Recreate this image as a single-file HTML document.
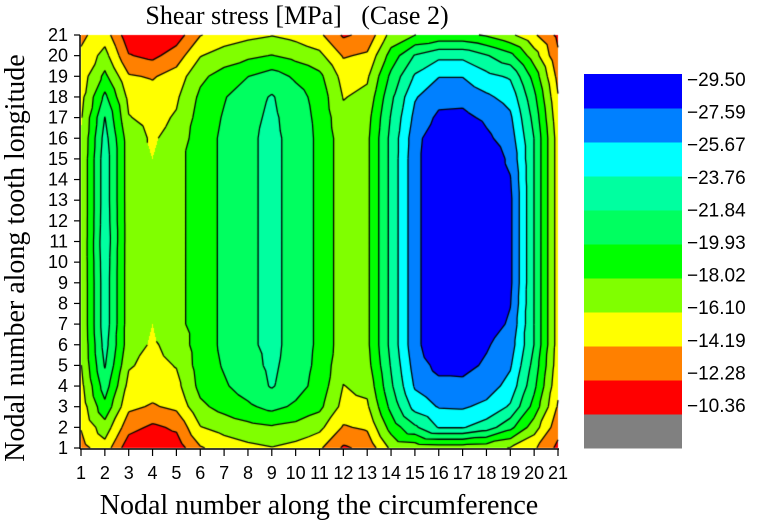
<!DOCTYPE html>
<html><head><meta charset="utf-8"><style>
html,body{margin:0;padding:0;background:#fff;}
#wrap{position:relative;width:757px;height:527px;overflow:hidden;}
canvas{position:absolute;left:0;top:0;}
</style></head><body>
<div id="wrap">
<canvas id="c" width="757" height="527"></canvas>
<svg id="s" width="757" height="527" style="position:absolute;left:0;top:0"></svg>
</div>
<script>
// node numbers
const xNodes=[1,2,3,4,5,6,7,8,9,10,11,12,13,14,15,16,17,18,19,20,21];
const yNodes=[1,2,3,4,5,6,7,8,9,10,11,12,13,14,15,16,17,18,19,20,21];
// contour levels (MPa), bottom -> top of colour bar
const levelLabels=["-10.36","-12.28","-14.19","-16.10","-18.02","-19.93","-21.84","-23.76","-25.67","-27.59","-29.50"];
const levels=[-10.36,-12.28,-14.19,-16.10,-18.02,-19.93,-21.84,-23.76,-25.67,-27.59,-29.50];
const bandColors=["#808080","#ff0000","#ff8000","#ffff00","#80ff00","#00ff00","#00ff60","#00ffa0","#00ffff","#0080ff","#0000ff"];
// shear stress magnitude (MPa) per column x=1..21, rows y=1..21
const col01=[13.5,14.3,15.0,15.5,16.0,16.1,16.2,16.2,16.2,16.2,16.2,16.2,16.2,16.2,16.2,16.1,15.9,15.5,15.1,14.5,13.8];
const col02=[15.3,17.2,19.4,20.9,22.0,22.6,23.0,23.0,23.0,23.1,23.3,23.1,23.0,23.0,23.0,22.6,21.9,20.4,18.5,16.8,15.2];
const col03=[11.0,13.0,14.6,15.5,16.3,17.0,17.0,17.0,17.0,17.0,17.0,17.0,17.0,17.0,17.0,17.0,16.2,15.6,14.4,12.4,11.0];
const col04=[10.8,11.9,14.0,15.0,15.5,15.85,16.1,16.4,16.6,16.6,16.6,16.6,16.6,16.4,16.1,15.85,15.5,15.0,14.0,11.8,10.8];
const col05=[11.2,12.6,14.6,15.5,16.2,16.8,17.4,17.4,17.4,17.4,17.4,17.4,17.4,17.4,17.4,16.9,16.3,15.8,15.0,13.2,11.3];
const col06=[14.0,16.0,17.6,18.6,18.9,19.0,19.0,19.0,19.0,19.0,19.0,19.0,19.0,19.0,19.0,19.0,18.8,18.4,17.6,16.0,14.1];
const col07=[15.0,16.8,18.7,19.7,20.1,20.3,20.3,20.3,20.3,20.3,20.3,20.3,20.3,20.3,20.3,20.3,20.1,19.8,18.8,17.0,15.0];
const col08=[15.6,17.4,19.6,20.8,21.2,21.5,21.5,21.5,21.5,21.5,21.5,21.5,21.5,21.5,21.5,21.5,21.3,21.0,19.9,17.6,15.6];
const col09=[16.0,17.8,20.5,22.0,22.2,22.3,22.3,22.3,22.3,22.3,22.3,22.3,22.3,22.3,22.3,22.3,22.2,22.0,20.8,18.1,16.0];
const col10=[15.5,17.4,19.6,20.7,21.0,21.2,21.2,21.2,21.2,21.2,21.2,21.2,21.2,21.2,21.2,21.2,21.0,20.7,19.6,17.4,15.5];
const col11=[14.5,16.6,18.5,19.2,19.4,19.5,19.5,19.5,19.5,19.5,19.5,19.5,19.5,19.5,19.5,19.5,19.4,19.2,18.5,16.6,14.6];
const col12=[12.0,14.0,15.5,16.05,16.6,17.0,17.0,17.0,17.0,17.0,17.0,17.0,17.0,17.0,17.0,17.0,16.6,16.0,15.4,14.0,12.0];
const col13=[12.8,14.5,15.8,16.6,17.3,17.6,17.6,17.6,17.6,17.6,17.6,17.6,17.6,17.6,17.6,17.6,17.3,16.6,15.8,14.5,12.8];
const col14=[16.5,18.8,20.5,21.5,22.0,22.4,22.4,22.4,22.4,22.4,22.4,22.4,22.4,22.4,22.4,22.4,22.0,21.4,20.4,18.8,16.8];
const col15=[16.8,21.5,24.5,25.9,26.5,27.0,27.0,27.0,27.0,27.0,27.0,27.0,27.0,27.0,27.0,26.8,26.2,25.5,24.0,22.0,18.0];
const col16=[17.0,23.9,25.8,27.0,28.2,29.3,29.3,29.3,29.3,29.3,29.3,29.3,29.3,29.3,29.3,29.3,28.0,26.9,25.6,23.3,18.5];
const col17=[17.0,23.9,25.9,27.1,28.2,29.4,29.4,29.4,29.4,29.4,29.4,29.4,29.4,29.4,29.4,29.4,28.1,27.0,25.6,23.3,18.5];
const col18=[16.8,22.8,25.2,26.6,27.3,27.8,29.0,29.0,29.0,29.0,29.0,29.0,29.0,29.0,29.0,28.0,27.2,26.0,24.3,22.0,17.8];
const col19=[16.0,20.5,23.5,25.0,25.9,26.6,27.2,27.7,28.0,28.0,28.0,28.0,28.0,27.7,27.2,26.6,26.0,25.0,23.5,20.5,16.5];
const col20=[14.5,17.0,19.2,20.4,21.1,21.8,21.8,21.8,21.8,21.8,21.8,21.8,21.8,21.8,21.8,21.8,21.2,20.4,19.2,17.0,14.5];
const col21=[11.8,13.0,14.0,14.6,15.0,15.2,15.2,15.2,15.2,15.2,15.2,15.2,15.2,15.2,15.2,15.2,14.8,14.3,13.6,12.6,11.8];
const stressMagnitude=[col01,col02,col03,col04,col05,col06,col07,col08,col09,col10,col11,col12,col13,col14,col15,col16,col17,col18,col19,col20,col21];

const X0=81,X1=558,Y0=448,Y1=35;
const nx=xNodes.length, ny=yNodes.length;
function xScale(n){return X0+(n-xNodes[0])/(xNodes[nx-1]-xNodes[0])*(X1-X0);}
function yScale(n){return Y0-(n-yNodes[0])/(yNodes[ny-1]-yNodes[0])*(Y0-Y1);}
function val(i,j){return -stressMagnitude[i][j];}
function bandOf(v){let k=0;for(let L=0;L<levels.length;L++){if(v<=levels[L])k=L+1;}return Math.min(k,bandColors.length-1);}
function hexRGB(h){return [parseInt(h.substr(1,2),16),parseInt(h.substr(3,2),16),parseInt(h.substr(5,2),16)];}
const rgb=bandColors.map(hexRGB);

const cv=document.getElementById('c');const ctx=cv.getContext('2d');
const xa=Math.round(xScale(xNodes[0])),xb=Math.round(xScale(xNodes[nx-1])),ya=Math.round(yScale(yNodes[ny-1])),yb=Math.round(yScale(yNodes[0]));
const img=ctx.createImageData(xb-xa,yb-ya);
for(let py=ya;py<yb;py++){for(let px=xa;px<xb;px++){
  let u=(px+0.5-xScale(xNodes[0]))/(xScale(xNodes[1])-xScale(xNodes[0]));
  let w=(yScale(yNodes[0])-(py+0.5))/(yScale(yNodes[0])-yScale(yNodes[1]));
  u=Math.max(0,Math.min(nx-1.0001,u));w=Math.max(0,Math.min(ny-1.0001,w));
  const i=Math.floor(u),j=Math.floor(w),fu=u-i,fv=w-j;
  const z00=val(i,j),z10=val(i+1,j),z01=val(i,j+1),z11=val(i+1,j+1);
  let z;
  if(fu>=fv) z=z00+fu*(z10-z00)+fv*(z11-z10); else z=z00+fv*(z01-z00)+fu*(z11-z01);
  const c=rgb[bandOf(z)];const o=((py-ya)*(xb-xa)+(px-xa))*4;
  img.data[o]=c[0];img.data[o+1]=c[1];img.data[o+2]=c[2];img.data[o+3]=255;
}}
ctx.putImageData(img,xa,ya);
// isolines via triangles
ctx.strokeStyle='#000';ctx.lineWidth=1.3;ctx.beginPath();
function tri(p){
  for(const L of levels){
    const pts=[];
    for(let e=0;e<3;e++){const a=p[e],b=p[(e+1)%3];
      if((a[2]-L)*(b[2]-L)<0){const t=(L-a[2])/(b[2]-a[2]);pts.push([a[0]+t*(b[0]-a[0]),a[1]+t*(b[1]-a[1])]);}}
    if(pts.length===2){ctx.moveTo(pts[0][0],pts[0][1]);ctx.lineTo(pts[1][0],pts[1][1]);}
  }
}
for(let i=0;i<nx-1;i++)for(let j=0;j<ny-1;j++){
  const P=(a,b)=>[xScale(xNodes[a]),yScale(yNodes[b]),val(a,b)];
  tri([P(i,j),P(i+1,j),P(i+1,j+1)]);tri([P(i,j),P(i,j+1),P(i+1,j+1)]);
}
ctx.stroke();

const NS='http://www.w3.org/2000/svg';const svg=document.getElementById('s');
function mk(tag,attrs,txt){const e=document.createElementNS(NS,tag);for(const k in attrs)e.setAttribute(k,attrs[k]);if(txt!==undefined)e.textContent=txt;svg.appendChild(e);return e;}
let el;
el=mk('line',{x1:X0-1,y1:Y1,x2:X0-1,y2:Y0+1,stroke:'#000','stroke-width':1.5});


el=mk('line',{x1:X0-1,y1:Y0+1,x2:X1+1,y2:Y0+1,stroke:'#000','stroke-width':1.5});


xNodes.forEach(n=>{const x=xScale(n);
  el=mk('line',{x1:x,y1:Y0+1,x2:x,y2:Y0+8,stroke:'#000','stroke-width':1.2});
  
  
  el=mk('text',{x:x,y:479,'text-anchor':'middle','font-family':'Liberation Sans, sans-serif','font-size':18},String(n));
  
  
});
yNodes.forEach(n=>{const y=yScale(n);
  el=mk('line',{x1:X0-7,y1:y,x2:X0-1,y2:y,stroke:'#000','stroke-width':1.2});
  
  
  el=mk('text',{x:68,y:y+6,'text-anchor':'end','font-family':'Liberation Sans, sans-serif','font-size':18},String(n));
  
  
});
el=mk('text',{x:297,y:24,'text-anchor':'middle','font-family':'Liberation Serif, serif','font-size':26,'xml:space':'preserve'},'Shear stress [MPa]   (Case 2)');


el.setAttribute('style','white-space:pre');
el=mk('text',{x:319,y:514,'text-anchor':'middle','font-family':'Liberation Serif, serif','font-size':28},'Nodal number along the circumference');


el=mk('text',{x:0,y:0,transform:'translate(24,258) rotate(-90)','text-anchor':'middle','font-family':'Liberation Serif, serif','font-size':28},'Nodal number along tooth longitude');


// colour bar
const CB_X=584,CB_W=98,CB_TOP=74,CB_BOT=448;const bh=(CB_BOT-CB_TOP)/bandColors.length;
bandColors.forEach((c,k)=>{
  el=mk('rect',{x:CB_X,y:CB_BOT-(k+1)*bh,width:CB_W,height:bh+0.5,fill:c});
  
  
});
levelLabels.forEach((t,k)=>{
  const y=405-k*32.6;
  el=mk('text',{x:687,y:y+7,'font-family':'Liberation Sans, sans-serif','font-size':19},t.replace('-','\u2212'));
  
  
});
</script>
</body></html>
